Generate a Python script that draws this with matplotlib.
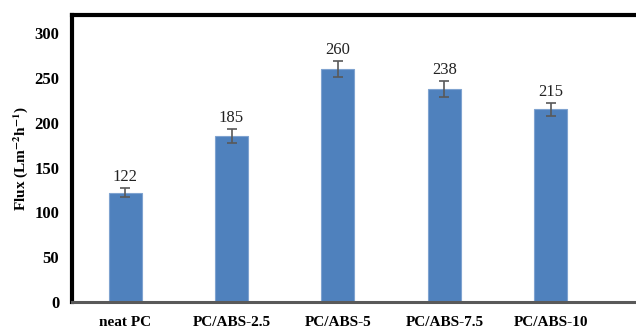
import numpy as np
import matplotlib.pyplot as plt

# Flux of the membranes
samples = ["neat PC", "PC/ABS-2.5", "PC/ABS-5", "PC/ABS-7.5", "PC/ABS-10"]
flux = [122, 185, 260, 238, 215]
flux_err = [5, 8, 9, 9, 7]

plt.rcParams['font.family'] = ['Liberation Serif', 'DejaVu Serif']
plt.rcParams['mathtext.fontset'] = 'stix'

fig = plt.figure(figsize=(6.36, 3.29), dpi=100)
ax = fig.add_axes([0.113, 0.082, 0.887, 0.872])

x = np.arange(len(samples))
ax.bar(x, flux, width=0.31, color="#4F81BD", edgecolor="#7FA3D0", linewidth=0.8, zorder=2)
ax.errorbar(x, flux, yerr=flux_err, fmt="none", ecolor="#595959",
            elinewidth=1.2, capsize=3.3, capthick=1.2, zorder=3)

for xi, v, e in zip(x, flux, flux_err):
    ax.text(xi, v + e + 3, str(v), ha="center", va="bottom", fontsize=12, color="#222222")

ax.set_xlim(-0.5, 4.8)
ax.set_ylim(0, 320)
ax.set_yticks(np.arange(0, 301, 50))
ax.set_xticks(x)
ax.set_xticklabels(samples, fontweight="bold", fontsize=11)
for lab in ax.get_yticklabels():
    lab.set_fontweight("bold")
    lab.set_fontsize(12)
ax.tick_params(axis="both", length=0)
ax.tick_params(axis="x", pad=10)
ax.tick_params(axis="y", pad=9)

ax.set_ylabel("Flux (Lm$^{\\mathbf{-2}}$h$^{\\mathbf{-1}}$)", fontweight="bold", fontsize=11, labelpad=3)

ax.spines["right"].set_visible(False)
ax.spines["left"].set_linewidth(3)
ax.spines["top"].set_linewidth(3)
ax.spines["left"].set_color("black")
ax.spines["top"].set_color("black")
ax.spines["bottom"].set_linewidth(2.2)
ax.spines["bottom"].set_color("#595959")

fig.savefig("out.png", dpi=100)
